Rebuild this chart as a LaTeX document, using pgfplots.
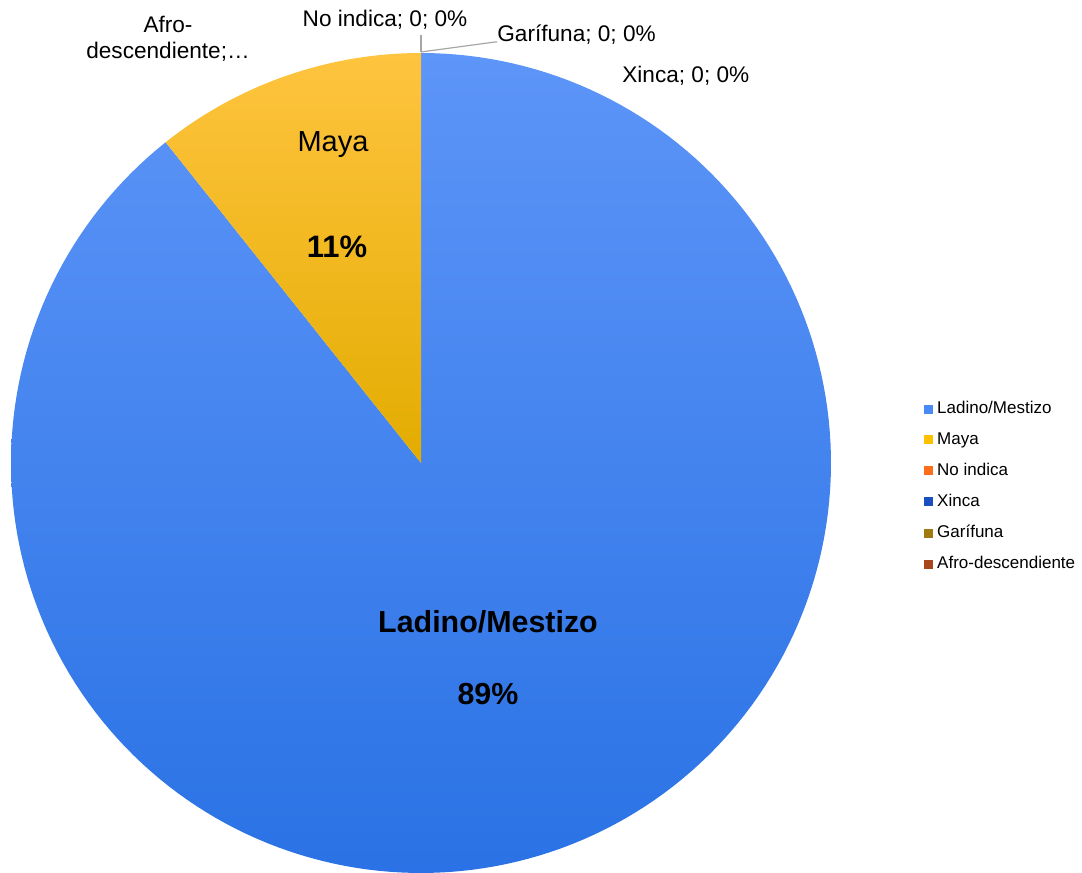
\documentclass[border=0pt]{standalone}
\usepackage{fontspec}
\setmainfont{Liberation Sans}
\usepackage{pgfplots}
\pgfplotsset{compat=1.18}

\definecolor{ladinoTop}{HTML}{5D95F8}
\definecolor{ladinoMid}{HTML}{4186F6}
\definecolor{ladinoBot}{HTML}{2A72E5}
\definecolor{mayaTop}{HTML}{FFC43F}
\definecolor{mayaMid}{HTML}{FFC000}
\definecolor{mayaBot}{HTML}{E3AC00}
\definecolor{cLadino}{HTML}{4A8AF4}
\definecolor{cMaya}{HTML}{FFC000}
\definecolor{cNoIndica}{HTML}{FF6D1A}
\definecolor{cXinca}{HTML}{1A4FC0}
\definecolor{cGarifuna}{HTML}{A07A10}
\definecolor{cAfro}{HTML}{A8461E}
\definecolor{leader}{HTML}{A6A6A6}

% shares in percent (No indica, Xinca, Garifuna, Afro-descendiente: 0)
\def\ladino{89.3}
\def\maya{10.7}
% pie centre and radius, in pixels of the picture
\def\cx{421}
\def\cy{410}
\def\r{410}

\newcommand{\lblfont}{\fontsize{11.3}{13}\selectfont}

\begin{document}
\begin{tikzpicture}
\begin{axis}[
  x=0.5pt, y=0.5pt,
  xmin=0, xmax=1082, ymin=0, ymax=873,
  hide axis, clip=false,
  legend style={at={(axis cs:924,476)}, anchor=north west, draw=none, fill=none,
    font=\fontsize{8.5}{10}\selectfont, row sep=3.9pt, inner sep=0pt,
    legend cell align=left},
  legend image code/.code={\fill[#1] (0pt,-2pt) rectangle (4pt,2pt);},
]
% invisible frame, keeps the page the size of the reference
\addplot[draw=none, forget plot] coordinates {(0,0) (1082,873)};

% Ladino/Mestizo wedge, clockwise from 12 o'clock
\addplot[draw=none, forget plot, top color=ladinoTop, middle color=ladinoMid, bottom color=ladinoBot,
  domain=0:\ladino*3.6, samples=200, variable=\t]
  ({\cx+\r*sin(\t)}, {\cy+\r*cos(\t)}) -- (axis cs:\cx,\cy) -- cycle;
% Maya wedge
\addplot[draw=none, forget plot, top color=mayaTop, middle color=mayaMid, bottom color=mayaBot,
  domain=\ladino*3.6:360, samples=40, variable=\t]
  ({\cx+\r*sin(\t)}, {\cy+\r*cos(\t)}) -- (axis cs:\cx,\cy) -- cycle;

% leader lines of the zero slices
\addplot[leader, line width=0.6pt, forget plot] coordinates {(421,821) (421,838)};
\addplot[leader, line width=0.6pt, forget plot] coordinates {(421,821) (495,831) (497,831)};

\node[anchor=base, font=\lblfont] at (axis cs:385,846) {No indica; 0; 0\%};
\node[anchor=base west, font=\lblfont, inner sep=0pt] at (axis cs:497,831) {Garífuna; 0; 0\%};
\node[anchor=base west, font=\lblfont, inner sep=0pt] at (axis cs:622,790) {Xinca; 0; 0\%};
\node[anchor=base, font=\lblfont] at (axis cs:168,840) {Afro-};
\node[anchor=base, font=\lblfont] at (axis cs:168,814) {descendiente;…};

\node[anchor=base, font=\fontsize{14.5}{16}\selectfont] at (axis cs:333,721) {Maya};
\node[anchor=base, font=\bfseries\fontsize{15.5}{17}\selectfont] at (axis cs:337,615) {11\%};
\node[anchor=base, font=\bfseries\fontsize{15.2}{17}\selectfont] at (axis cs:488,240) {Ladino/Mestizo};
\node[anchor=base, font=\bfseries\fontsize{15.2}{17}\selectfont] at (axis cs:488,168) {89\%};

\addlegendimage{cLadino}\addlegendentry{Ladino/Mestizo}
\addlegendimage{cMaya}\addlegendentry{Maya}
\addlegendimage{cNoIndica}\addlegendentry{No indica}
\addlegendimage{cXinca}\addlegendentry{Xinca}
\addlegendimage{cGarifuna}\addlegendentry{Garífuna}
\addlegendimage{cAfro}\addlegendentry{Afro-descendiente}
\end{axis}
\end{tikzpicture}
\end{document}
